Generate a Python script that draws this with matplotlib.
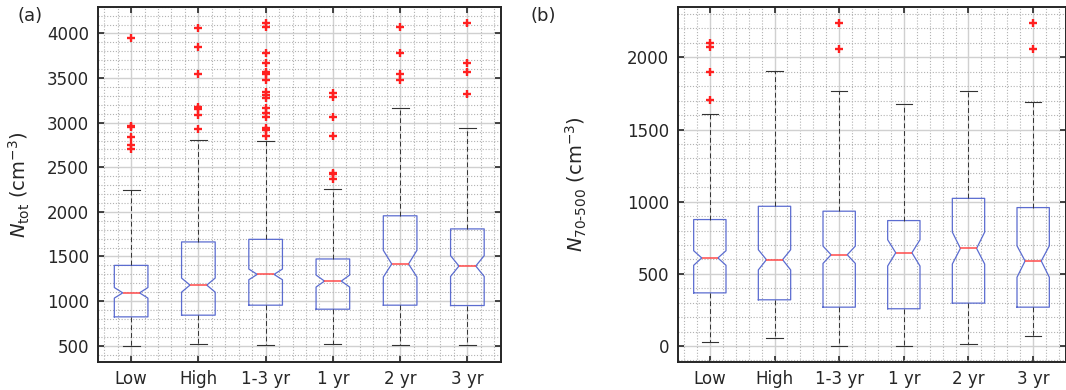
import matplotlib
matplotlib.use("Agg")
import matplotlib.pyplot as plt
from matplotlib.ticker import MultipleLocator

plt.rcParams["font.family"] = "DejaVu Sans"
plt.rcParams["mathtext.fontset"] = "dejavusans"

groups = ["Low", "High", "1-3 yr", "1 yr", "2 yr", "3 yr"]

# panel (a): N_tot
tot_med = [1092, 1179, 1299, 1224, 1416, 1393]
tot_q1 = [823, 842, 954, 909, 954, 950]
tot_q3 = [1400, 1663, 1692, 1472, 1956, 1809]
tot_lo = [500, 522, 511, 516, 511, 511]
tot_hi = [2243, 2810, 2792, 2258, 3165, 2941]
tot_cilo = [1033, 1100, 1239, 1157, 1269, 1276]
tot_cihi = [1152, 1258, 1359, 1292, 1569, 1509]
tot_fliers = [
    [3948, 2962, 2948, 2840, 2745, 2700],
    [4060, 3848, 3541, 3180, 3150, 3087, 2926],
    [4116, 4078, 3780, 3668, 3568, 3541, 3474, 3343, 3306, 3276, 3165, 3109,
     3064, 2941, 2922, 2851],
    [3329, 3288, 3066, 2853, 2441, 2419, 2366],
    [4078, 3780, 3541, 3474],
    [4116, 3668, 3568, 3324],
]

# panel (b): N_70-500
acc_med = [610, 598, 632, 646, 676, 589]
acc_q1 = [368, 320, 269, 258, 297, 269]
acc_q3 = [876, 968, 934, 869, 1023, 959]
acc_lo = [30, 58, 3, 2, 16, 67]
acc_hi = [1610, 1903, 1768, 1678, 1768, 1691]
acc_cilo = [559, 527, 572, 554, 568, 476]
acc_cihi = [660, 667, 692, 736, 789, 694]
acc_fliers = [
    [2101, 2074, 1900, 1703],
    [],
    [2236, 2056],
    [],
    [],
    [2236, 2056],
]


def make_stats(med, q1, q3, lo, hi, cilo, cihi, fliers):
    stats = []
    for i in range(len(groups)):
        stats.append(dict(med=med[i], q1=q1[i], q3=q3[i], whislo=lo[i],
                          whishi=hi[i], cilo=cilo[i], cihi=cihi[i],
                          fliers=fliers[i], label=groups[i]))
    return stats


def draw_panel(ax, stats, ylim, ymajor):
    ax.bxp(stats, shownotches=True, widths=0.5,
           boxprops=dict(color="#5b6cd0", lw=0.9),
           medianprops=dict(color="#ff4a4a", lw=1.1),
           whiskerprops=dict(color="#333333", lw=0.7, ls=(0, (5, 3))),
           capprops=dict(color="#333333", lw=0.8),
           flierprops=dict(marker="+", markersize=6, markeredgewidth=1.7,
                           markeredgecolor="#ff2020"))
    ax.set_xlim(0.5, 6.5)
    ax.set_ylim(*ylim)
    ax.yaxis.set_major_locator(MultipleLocator(ymajor))
    ax.yaxis.set_minor_locator(MultipleLocator(ymajor / 5))
    ax.xaxis.set_minor_locator(MultipleLocator(0.2))
    ax.set_axisbelow(True)
    ax.grid(which="major", color="#d0d0d0", lw=1.0, ls="-")
    ax.grid(which="minor", color="#b2b2b2", lw=0.8, ls=(0, (1, 1.6)))
    ax.tick_params(which="major", direction="in", top=True, right=True,
                   length=4, width=1.2, labelsize=12, colors="#262626",
                   pad=6)
    ax.tick_params(which="minor", length=0, top=True, right=True)
    for sp in ax.spines.values():
        sp.set_color("#262626")
        sp.set_linewidth(1.4)


fig = plt.figure(figsize=(10.66, 3.9), dpi=100)

ax1 = fig.add_axes([97.5 / 1066, 28 / 390, 403.5 / 1066, 355.3 / 390])
draw_panel(ax1, make_stats(tot_med, tot_q1, tot_q3, tot_lo, tot_hi,
                           tot_cilo, tot_cihi, tot_fliers),
           (317, 4300), 500)
ax1.set_ylabel(r"$N_{\rm tot}$ (cm$^{-3}$)", fontsize=14, color="#262626")
ax1.yaxis.set_label_coords(-0.162, 0.5)

ax2 = fig.add_axes([677.5 / 1066, 28 / 390, 388 / 1066, 355.3 / 390])
draw_panel(ax2, make_stats(acc_med, acc_q1, acc_q3, acc_lo, acc_hi,
                           acc_cilo, acc_cihi, acc_fliers),
           (-111, 2351), 500)
ax2.set_ylabel("$N_{\\rm 70\u2010500}$ (cm$^{-3}$)", fontsize=14,
               color="#262626")
ax2.yaxis.set_label_coords(-0.228, 0.5)

fig.text(30 / 1066, 1 - 16 / 390, "(a)", fontsize=13, color="#262626",
         ha="center", va="center")
fig.text(543 / 1066, 1 - 16 / 390, "(b)", fontsize=13, color="#262626",
         ha="center", va="center")

fig.savefig("out.png", dpi=100)
